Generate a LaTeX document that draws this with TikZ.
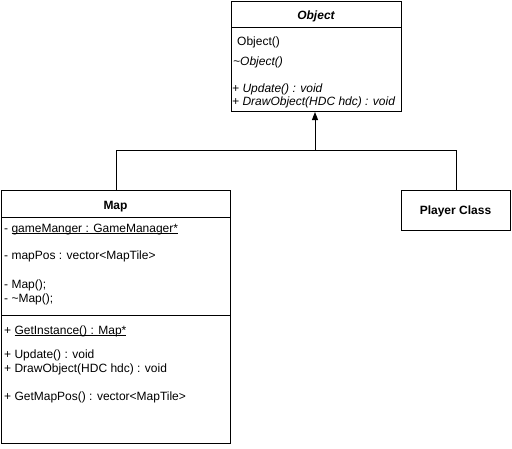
\documentclass[tikz,border=0pt]{standalone}
\usepackage{fontspec}
\setmainfont{Liberation Sans}
\usetikzlibrary{arrows.meta}
\newcommand{\uline}[1]{\setbox0\hbox{#1}\rlap{\rule[-1.6pt]{\wd0}{0.7pt}}\box0}
\tikzset{
  box/.style={draw, line width=1pt, fill=white, rectangle, inner sep=0pt, anchor=north west},
  txt/.style={inner sep=0pt, anchor=base west, font=\fontsize{12pt}{14pt}\selectfont},
  ttl/.style={inner sep=0pt, anchor=base, font=\fontsize{12pt}{14pt}\selectfont\bfseries},
  sep/.style={line width=1pt},
  inh/.style={line width=1pt, -{Triangle[length=8pt,width=6pt]}},
  lnk/.style={line width=1pt}
}
\begin{document}
\begin{tikzpicture}[x=1pt,y=-1pt]
\useasboundingbox (0,0) rectangle (512,448);
% Object class
\node[box, minimum width=170pt, minimum height=110pt] (obj) at (231,1) {};
\draw[sep] ([yshift=-26pt]obj.north west) -- ([yshift=-26pt]obj.north east);
\node[ttl, font=\fontsize{12pt}{14pt}\selectfont\bfseries\itshape] (objt) at (316,19) {Object};
\node[txt] (o1) at (237,45) {Object()};
\node[txt, font=\fontsize{12pt}{14pt}\selectfont\itshape] (o2) at (233,65) {\textasciitilde Object()};
\node[txt, font=\fontsize{12pt}{14pt}\selectfont\itshape] (o3) at (232,92) {+ Update() : void};
\node[txt, font=\fontsize{12pt}{14pt}\selectfont\itshape] (o4) at (232,105) {+ DrawObject(HDC hdc) : void};
% Map class
\node[box, minimum width=229pt, minimum height=253pt] (map) at (1,190) {};
\draw[sep] ([yshift=-27pt]map.north west) -- ([yshift=-27pt]map.north east);
\draw[sep] ([yshift=-125pt]map.north west) -- ([yshift=-125pt]map.north east);
\node[ttl] (mapt) at (115.5,209) {Map};
\node[txt] (m1) at (4,232) {- \uline{gameManger : GameManager*}};
\node[txt] (m2) at (4,259) {- mapPos : vector<MapTile>};
\node[txt] (m3) at (4,288) {- Map();};
\node[txt] (m4) at (4,302) {- \textasciitilde Map();};
\node[txt] (m5) at (4,334) {+ \uline{GetInstance() : Map*}};
\node[txt] (m6) at (4,358) {+ Update() : void};
\node[txt] (m7) at (4,372) {+ DrawObject(HDC hdc) : void};
\node[txt] (m8) at (4,400) {+ GetMapPos() : vector<MapTile>};
% Player class
\node[box, minimum width=109pt, minimum height=40pt] (pl) at (401,190) {};
\node[ttl] (plt) at (455.5,214) {Player Class};
% connectors
\coordinate (junc) at (315,150);
\draw[inh] (map.north) |- (junc) -- (obj.south -| junc);
\draw[lnk] (pl.north) |- (junc);
\end{tikzpicture}
\end{document}
